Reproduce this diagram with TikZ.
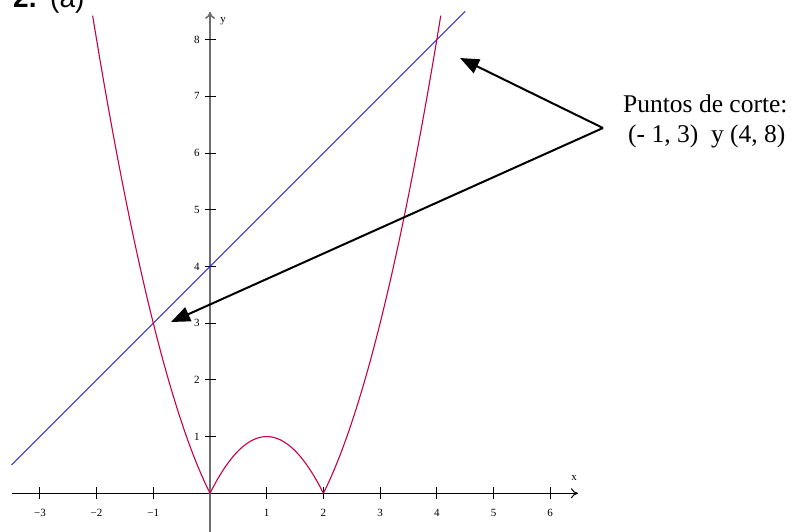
\documentclass[tikz,border=0pt]{standalone}
\usepackage{fontspec}
\setmainfont{Liberation Serif}
\newfontfamily\arialf{Liberation Sans}
\usetikzlibrary{arrows.meta}
\definecolor{curvecol}{RGB}{200,0,75}
\definecolor{linecol}{RGB}{20,20,255}
\definecolor{yaxcol}{RGB}{110,110,110}
\tikzset{
  ticklbl/.style={font=\fontsize{11}{12}\selectfont, inner sep=0pt},
  axlbl/.style={font=\fontsize{11}{12}\selectfont, inner sep=0pt},
  titlefont/.style={font=\arialf\fontsize{28}{30}\selectfont, anchor=base west, inner sep=0pt},
  callout/.style={line width=2pt, -{Triangle[length=19pt,width=15pt]}},
  curvestyle/.style={curvecol, line width=1.1pt},
  linestyle/.style={linecol, line width=1pt},
}
\begin{document}
\begin{tikzpicture}[x=1pt,y=1pt]
\useasboundingbox (0,0) rectangle (798,532);
\clip (0,0) rectangle (798,532);
% title
\node[titlefont] (title) at (13,524) {\bfseries 2.};
\node[titlefont] (titleb) at (50,524) {(a)};
\begin{scope}[shift={(210,38.7)}, x=56.7pt, y=56.7pt]
  % axes
  \draw[line width=1pt, -{To[length=7pt,width=10pt]}] (-3.49,0) coordinate (xs) -- (6.49,0) coordinate (xe);
  \draw[yaxcol, line width=1.6pt, -{To[length=7pt,width=10pt]}] (0,-0.7) coordinate (ys) -- (0,8.49) coordinate (ye);
  \node[axlbl] (xl) at (6.42,0.27) {x};
  \node[axlbl] (yl) at (0.23,8.32) {y};
  % x ticks
  \foreach \i/\t in {-3/{−3},-2/{−2},-1/{−1},1/1,2/2,3/3,4/4,5/5,6/6}{
    \draw[line width=0.9pt] (\i,-0.105) -- (\i,0.105);
    \node[ticklbl] (xt\i) at (\i,-0.34) {\t};
  }
  % y ticks
  \foreach \j in {1,...,8}{
    \draw[line width=0.9pt] (-0.09,\j) -- (0.11,\j);
    \node[ticklbl] (yt\j) at (-0.23,\j) {\j};
  }
  % line y = x + 4
  \draw[linestyle] (-3.5,0.5) coordinate (la) -- (4.5,8.5) coordinate (lb);
  % curve |x^2-2x|
  \draw[curvestyle] plot[domain=-2.07:0, samples=80, smooth] (\x,{\x*\x-2*\x});
  \draw[curvestyle] plot[domain=0:2, samples=80, smooth] (\x,{2*\x-\x*\x});
  \draw[curvestyle] plot[domain=2:4.07, samples=80, smooth] (\x,{\x*\x-2*\x});
\end{scope}
% callout text
\node[font=\fontsize{25.5}{27}\selectfont, anchor=base west, inner sep=0pt] (t1) at (623,419) {Puntos de corte:};
\node[font=\fontsize{25.5}{27}\selectfont, anchor=base west, inner sep=0pt] (t2) at (628,389) {(- 1, 3)\ \ y (4, 8)};
\coordinate (c) at (603,404);
\coordinate (p1) at (460,474);
\coordinate (p2) at (171,210);
\draw[callout] (c) -- (p1);
\draw[callout] (c) -- (p2);
\end{tikzpicture}
\end{document}
